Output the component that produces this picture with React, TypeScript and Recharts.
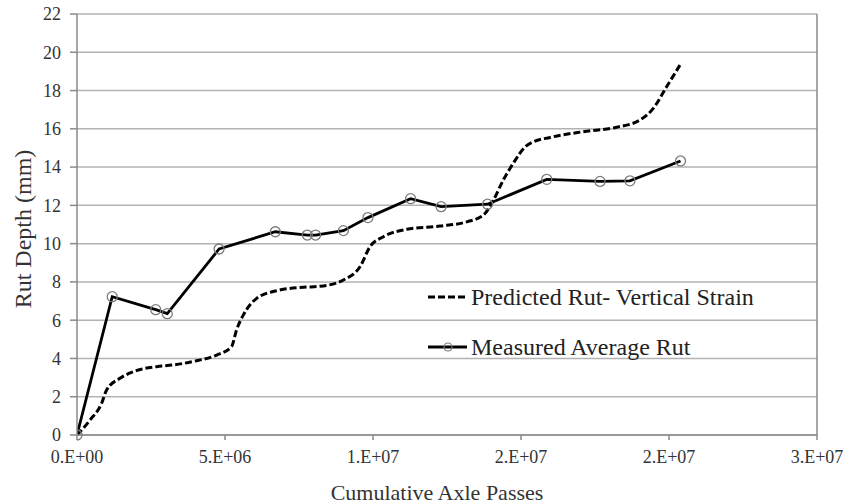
import React from 'react';
import { LineChart, Line, XAxis, YAxis, CartesianGrid, ReferenceLine } from 'recharts';

// Predicted rut (vertical strain model): x in millions of axle passes, rut depth in mm
const predictedX = [0, 0.44, 0.83, 1.0, 1.45, 2.0, 2.69, 3.25, 4.04, 4.72, 5.22, 5.39, 5.62, 6.07, 6.75, 7.65, 8.21, 9.0, 9.56, 9.9, 10.35, 11.14, 12.26, 13.17, 13.73, 14.07, 14.4, 14.74, 15.14, 15.42, 15.98, 17.1, 18.23, 19.02, 19.47, 19.92, 20.37];
const predictedY = [0, 0.78, 1.65, 2.35, 2.96, 3.36, 3.57, 3.66, 3.88, 4.18, 4.62, 5.49, 6.27, 7.14, 7.54, 7.72, 7.77, 8.1, 8.79, 9.84, 10.36, 10.75, 10.92, 11.14, 11.49, 12.28, 13.32, 14.2, 15.06, 15.32, 15.55, 15.85, 16.08, 16.46, 17.07, 18.2, 19.33];

// Measured average rut
const measuredX = [0, 1.19, 2.66, 3.05, 4.8, 6.7, 7.78, 8.06, 9.0, 9.83, 11.27, 12.3, 13.87, 15.87, 17.67, 18.68, 20.39];
const measuredY = [0, 7.23, 6.55, 6.34, 9.72, 10.62, 10.45, 10.45, 10.68, 11.36, 12.35, 11.93, 12.06, 13.36, 13.25, 13.28, 14.32];

const xTicks = [0, 5e6, 1e7, 1.5e7, 2e7, 2.5e7];
const xTickLabels = ['0.E+00', '5.E+06', '1.E+07', '2.E+07', '2.E+07', '3.E+07'];
const yTicks = [0, 2, 4, 6, 8, 10, 12, 14, 16, 18, 20, 22];

const predictedData = predictedX.map((x, i) => ({ x: x * 1e6, y: predictedY[i] }));
const measuredData = measuredX.map((x, i) => ({ x: x * 1e6, y: measuredY[i] }));

const FONT = '"Liberation Serif", "Times New Roman", serif';
const TEXT = '#333333';

const YLabel = (props: any) => {
  const cx = 23;
  const cy = 229;
  return (
    <text x={cx} y={cy} transform={`rotate(-90, ${cx}, ${cy})`} textAnchor="middle" dominantBaseline="central"
      style={{ fontFamily: FONT, fontSize: 24, fill: TEXT }}>
      Rut Depth (mm)
    </text>
  );
};

const XLabel = (props: any) => {
  const vb = props.viewBox || { x: 77, y: 435, width: 740 };
  const cx = vb.x + vb.width / 2 - 10;
  return (
    <text x={cx} y={492} textAnchor="middle" dominantBaseline="central"
      style={{ fontFamily: FONT, fontSize: 22, fill: TEXT }}>
      Cumulative Axle Passes
    </text>
  );
};

export default function App() {
  return (
    <div style={{ position: 'absolute', left: 0, top: 0, width: 858, height: 504, background: '#fff' }}>
      <LineChart width={858} height={504} margin={{ top: 14, right: 41, bottom: 0, left: 0 }}>
        <CartesianGrid vertical={false} stroke="#b3b3b3" strokeWidth={1.5} />
        <XAxis
          type="number"
          dataKey="x"
          domain={[0, 2.5e7]}
          ticks={xTicks}
          tickFormatter={(v: number) => xTickLabels[xTicks.indexOf(v)] ?? ''}
          height={69}
          tickSize={5}
          tickMargin={10}
          stroke="#8a8a8a"
          strokeWidth={1.5}
          tick={{ fontFamily: FONT, fontSize: 18, fill: TEXT }}
          allowDataOverflow
          label={<XLabel />}
        />
        <YAxis
          type="number"
          domain={[0, 22]}
          ticks={yTicks}
          width={77}
          tickSize={7}
          tickMargin={9}
          stroke="#8a8a8a"
          strokeWidth={1.5}
          tick={{ fontFamily: FONT, fontSize: 18, fill: TEXT }}
          label={<YLabel />}
        />
        <ReferenceLine x={2.5e7} stroke="#8a8a8a" strokeWidth={1.5} />
        <Line
          data={predictedData}
          dataKey="y"
          type="monotone"
          stroke="#000"
          strokeWidth={3}
          strokeDasharray="7 3"
          dot={false}
          isAnimationActive={false}
        />
        <Line
          data={measuredData}
          dataKey="y"
          type="linear"
          stroke="#000"
          strokeWidth={2.8}
          dot={{ r: 5, stroke: '#7a7a7a', strokeWidth: 1.3, fill: 'none' }}
          isAnimationActive={false}
        />
      </LineChart>
      <div style={{ position: 'absolute', left: 428, top: 282, height: 30, display: 'flex', alignItems: 'center', fontFamily: FONT, fontSize: 24, color: '#222' }}>
        <svg width={42} height={30}>
          <line x1={0} y1={15} x2={39} y2={15} stroke="#000" strokeWidth={3} strokeDasharray="7 3" />
        </svg>
        <span style={{ marginLeft: 1, whiteSpace: 'nowrap' }}>Predicted Rut- Vertical Strain</span>
      </div>
      <div style={{ position: 'absolute', left: 428, top: 332, height: 30, display: 'flex', alignItems: 'center', fontFamily: FONT, fontSize: 24, color: '#222' }}>
        <svg width={42} height={30}>
          <line x1={0} y1={15} x2={39} y2={15} stroke="#000" strokeWidth={2.8} />
          <circle cx={20} cy={15} r={4} stroke="#7a7a7a" strokeWidth={1.2} fill="none" />
        </svg>
        <span style={{ marginLeft: 1, whiteSpace: 'nowrap' }}>Measured Average Rut</span>
      </div>
    </div>
  );
}
